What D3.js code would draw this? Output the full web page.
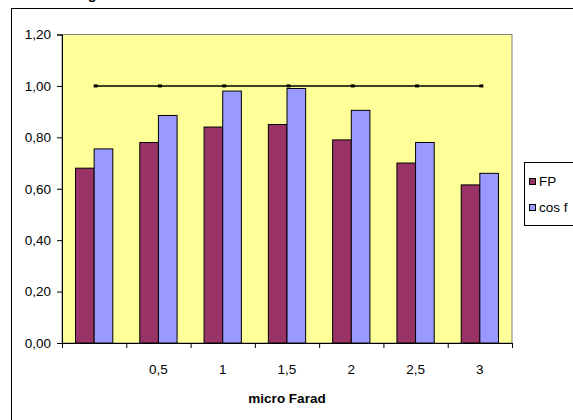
<!DOCTYPE html>
<html><head><meta charset="utf-8">
<script src="https://cdn.jsdelivr.net/npm/d3@7"></script>
<style>body{margin:0;background:#fff}svg{display:block;font-family:"Liberation Sans",Arial,sans-serif}</style>
</head><body><svg id="c" width="573" height="420"></svg>
<script>
const categories = ["", "0,5", "1", "1,5", "2", "2,5", "3"];
const fpValues = [0.68, 0.78, 0.84, 0.85, 0.79, 0.70, 0.615];
const cosfValues = [0.755, 0.885, 0.98, 0.99, 0.905, 0.78, 0.66];
const refValues = [1, 1, 1, 1, 1, 1, 1];
const yTicks = [0, 0.2, 0.4, 0.6, 0.8, 1.0, 1.2];
const seriesNames = ["FP", "cos f"];
const colors = ["#993366", "#9999FF"];

const svg = d3.select("#c");
const L = 62, R = 512, T = 34.5, B = 343;
const FS = 13.5;
const fmt = v => v.toFixed(2).replace(".", ",");

// outer chart border
svg.append("rect").attr("x", 11.5).attr("y", 8.5).attr("width", 700).attr("height", 500)
  .attr("fill", "none").attr("stroke", "#000").attr("stroke-width", 1);
// cut-off title (only its lowest part is visible in the reference)
svg.append("text").attr("x", 88).attr("y", -1).attr("text-anchor", "middle")
  .attr("font-size", 14).attr("font-weight", "bold").text("ng");

const x = d3.scaleBand().domain(d3.range(categories.length)).range([L, R]).paddingInner(0.42).paddingOuter(0.21);
const xs = d3.scaleBand().domain([0, 1]).range([0, x.bandwidth()]);
const y = d3.scaleLinear().domain([0, 1.2]).range([B, T]);

// plot area
svg.append("rect").attr("x", L).attr("y", T).attr("width", R - L).attr("height", B - T)
  .attr("fill", "#FFFF99").attr("stroke", "#808080").attr("stroke-width", 1);

const series = [fpValues, cosfValues];
series.forEach((vals, si) => {
  svg.append("g").selectAll("rect").data(vals).join("rect")
    .attr("x", (d, i) => x(i) + xs(si))
    .attr("y", d => y(d))
    .attr("width", xs.bandwidth())
    .attr("height", d => B - y(d))
    .attr("fill", colors[si]).attr("stroke", "#000").attr("stroke-width", 1);
});

// line series
const cx = i => L + (R - L) / categories.length * (i + 0.5);
svg.append("path").datum(refValues)
  .attr("d", d3.line().x((d, i) => cx(i) + 1.5).y(d => y(d)))
  .attr("fill", "none").attr("stroke", "#000").attr("stroke-width", 1.5);
svg.append("g").selectAll("rect").data(refValues).join("rect")
  .attr("x", (d, i) => cx(i) - 0.5).attr("y", d => y(d) - 1.5)
  .attr("width", 4).attr("height", 3).attr("fill", "#000");

// y axis
const yAxis = d3.axisLeft(y).tickValues(yTicks).tickFormat(fmt).tickSize(5).tickPadding(6);
const gy = svg.append("g").attr("transform", `translate(${L},0)`).call(yAxis);
gy.select(".domain").attr("stroke", "#000");
gy.selectAll("text").attr("font-size", FS).attr("fill", "#000").attr("font-family", "Liberation Sans, Arial, sans-serif");

// x axis
const xb = d3.scaleLinear().domain([0, categories.length]).range([L, R]);
const gx = svg.append("g").attr("transform", `translate(0,${B})`)
  .call(d3.axisBottom(xb).tickValues(d3.range(categories.length + 1)).tickFormat("").tickSize(5));
gx.select(".domain").attr("stroke", "#000");
svg.append("g").selectAll("text").data(categories).join("text")
  .attr("x", (d, i) => cx(i)).attr("y", 374).attr("text-anchor", "middle")
  .attr("font-size", FS).text(d => d);

svg.append("text").attr("x", 287).attr("y", 403).attr("text-anchor", "middle")
  .attr("font-size", FS).attr("font-weight", "bold").text("micro Farad");

// legend
const lg = svg.append("g");
lg.append("rect").attr("x", 524.5).attr("y", 162.5).attr("width", 80).attr("height", 63)
  .attr("fill", "#fff").attr("stroke", "#000");
seriesNames.forEach((n, i) => {
  const yy = 181 + i * 26;
  lg.append("rect").attr("x", 529.5).attr("y", yy - 2.5).attr("width", 6).attr("height", 6)
    .attr("fill", colors[i]).attr("stroke", "#000");
  lg.append("text").attr("x", 539).attr("y", yy + 5).attr("font-size", FS).text(n);
});
</script></body></html>
